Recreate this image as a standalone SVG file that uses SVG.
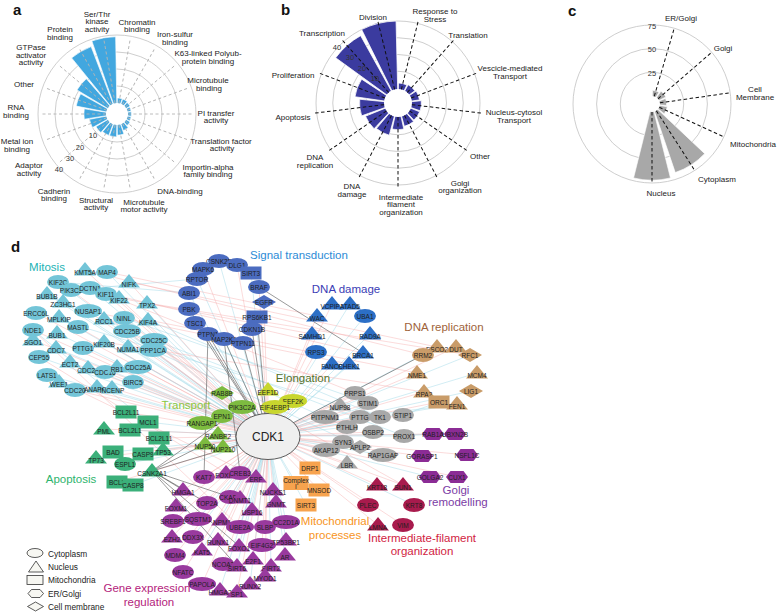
<svg xmlns="http://www.w3.org/2000/svg" xmlns:xlink="http://www.w3.org/1999/xlink" width="777" height="614" viewBox="0 0 777 614">
<style>
text{font-family:'Liberation Sans',Arial,Helvetica,sans-serif}
.ax{font-size:8px;fill:#222;text-anchor:middle;dominant-baseline:central}
.rl{font-size:7.5px;fill:#333;text-anchor:middle;dominant-baseline:central}
.pl{font-size:15px;font-weight:bold;fill:#111}
.ring{fill:none;stroke:#c8c8c8;stroke-width:.9}
.da{stroke:#b4b4b4;stroke-width:.9;stroke-dasharray:3 2.5}
.db{stroke:#111;stroke-width:1;stroke-dasharray:3.5 2.5}
.ba path{fill:#42a7df;stroke:#fff;stroke-width:.6}
.bb path{fill:#3b3b9f;stroke:#fff;stroke-width:.7}
.bc path{fill:#a8a8a8;stroke:#fff;stroke-width:.6}
.nd text{font-size:6.5px;fill:#1e1e1e;text-anchor:middle;dominant-baseline:central}
.cl{font-size:11.5px;text-anchor:middle;dominant-baseline:central}
.lg{fill:#f7f7f2;stroke:#333;stroke-width:.8}
.lt{font-size:8.3px;fill:#222;dominant-baseline:central}
.p{stroke:#f5aaaa;stroke-width:.5;fill:none;opacity:.85}
.b{stroke:#9cd6e6;stroke-width:.5;fill:none;opacity:.9}
.k{stroke:#555;stroke-width:.6;fill:none}
.m{fill:#73c5d8}.s{fill:#4b6cc0}.dd{fill:#2c6fc6}.el{fill:#c8d62e}.tr{fill:#7dbb40}.ap{fill:#3bb07a}
.ge{fill:#993a9e}.mp{fill:#f7a34e}.gr{fill:#a8a8a8}.dr{fill:#c99c69}.go{fill:#8b2c95}.if{fill:#a81b4d}
</style>
<defs>
<ellipse id="E" rx="11" ry="7"/>
<ellipse id="W" rx="14" ry="7"/>
<polygon id="T" points="0,-8 11,5.5 -11,5.5"/>
<rect id="R" x="-10.5" y="-6.5" width="21" height="13"/>
<polygon id="H" points="-11,0 -6.5,-6 6.5,-6 11,0 6.5,6 -6.5,6"/>
<polygon id="D" points="0,-7 12,0 0,7 -12,0"/>
</defs>
<rect width="777" height="614" fill="#fff"/>

<!-- Panel letters -->
<text class="pl" x="13" y="15">a</text>
<text class="pl" x="281" y="15">b</text>
<text class="pl" x="568" y="16">c</text>
<text class="pl" x="11" y="252">d</text>

<!-- Panel a -->
<g id="panel-a">
<circle class="ring" cx="117" cy="114" r="28"/><circle class="ring" cx="117" cy="114" r="45"/><circle class="ring" cx="117" cy="114" r="62"/><circle class="ring" cx="117" cy="114" r="79"/>
<g class="ba" transform="translate(117 114)">
<path transform="rotate(10)" d="M0 0L-2.52-15.9A16.1 16.1 0 0 1 2.52-15.9Z"/>
<path transform="rotate(30)" d="M0 0L-2.52-15.9A16.1 16.1 0 0 1 2.52-15.9Z"/>
<path transform="rotate(50)" d="M0 0L-2.39-15.11A15.3 15.3 0 0 1 2.39-15.11Z"/>
<path transform="rotate(70)" d="M0 0L-2.25-14.22A14.4 14.4 0 0 1 2.25-14.22Z"/>
<path transform="rotate(90)" d="M0 0L-2.25-14.22A14.4 14.4 0 0 1 2.25-14.22Z"/>
<path transform="rotate(110)" d="M0 0L-2.25-14.22A14.4 14.4 0 0 1 2.25-14.22Z"/>
<path transform="rotate(130)" d="M0 0L-2.39-15.11A15.3 15.3 0 0 1 2.39-15.11Z"/>
<path transform="rotate(150)" d="M0 0L-2.78-17.58A17.8 17.8 0 0 1 2.78-17.58Z"/>
<path transform="rotate(170)" d="M0 0L-3.32-20.94A21.2 21.2 0 0 1 3.32-20.94Z"/>
<path transform="rotate(190)" d="M0 0L-3.58-22.62A22.9 22.9 0 0 1 3.58-22.62Z"/>
<path transform="rotate(210)" d="M0 0L-3.58-22.62A22.9 22.9 0 0 1 3.58-22.62Z"/>
<path transform="rotate(230)" d="M0 0L-3.85-24.3A24.6 24.6 0 0 1 3.85-24.3Z"/>
<path transform="rotate(250)" d="M0 0L-4.38-27.66A28 28 0 0 1 4.38-27.66Z"/>
<path transform="rotate(270)" d="M0 0L-5.18-32.69A33.1 33.1 0 0 1 5.18-32.69Z"/>
<path transform="rotate(290)" d="M0 0L-6.51-41.09A41.6 41.6 0 0 1 6.51-41.09Z"/>
<path transform="rotate(310)" d="M0 0L-7.3-46.13A46.7 46.7 0 0 1 7.3-46.13Z"/>
<path transform="rotate(330)" d="M0 0L-11.29-71.31A72.2 72.2 0 0 1 11.29-71.31Z"/>
<path transform="rotate(350)" d="M0 0L-12.09-76.35A77.3 77.3 0 0 1 12.09-76.35Z"/>
</g>
<circle cx="117" cy="114" r="11" fill="#fff"/>
<g class="da" transform="translate(117 114)">
<line y1="-11" y2="-77" transform="rotate(10)"/><line y1="-11" y2="-77" transform="rotate(30)"/><line y1="-11" y2="-77" transform="rotate(50)"/><line y1="-11" y2="-77" transform="rotate(70)"/><line y1="-11" y2="-77" transform="rotate(90)"/><line y1="-11" y2="-77" transform="rotate(110)"/><line y1="-11" y2="-77" transform="rotate(130)"/><line y1="-11" y2="-77" transform="rotate(150)"/><line y1="-11" y2="-77" transform="rotate(170)"/><line y1="-11" y2="-77" transform="rotate(190)"/><line y1="-11" y2="-77" transform="rotate(210)"/><line y1="-11" y2="-77" transform="rotate(230)"/><line y1="-11" y2="-77" transform="rotate(250)"/><line y1="-11" y2="-77" transform="rotate(270)"/><line y1="-11" y2="-77" transform="rotate(290)"/><line y1="-11" y2="-77" transform="rotate(310)"/><line y1="-11" y2="-77" transform="rotate(330)"/><line y1="-11" y2="-77" transform="rotate(350)"/>
</g>
<text class="rl" x="93" y="135">10</text><text class="rl" x="80" y="147">20</text><text class="rl" x="70" y="158">30</text><text class="rl" x="59" y="169">40</text>
<text class="ax" x="97" y="14">Ser/Thr</text><text class="ax" x="97" y="21.5">kinase</text><text class="ax" x="97" y="29">activity</text>
<text class="ax" x="137" y="22">Chromatin</text><text class="ax" x="137" y="29.5">binding</text>
<text class="ax" x="60" y="29">Protein</text><text class="ax" x="60" y="37">binding</text>
<text class="ax" x="175" y="34">Iron-sulfur</text><text class="ax" x="175" y="42">binding</text>
<text class="ax" x="208" y="53">K63-linked Polyub-</text><text class="ax" x="208" y="61">protein binding</text>
<text class="ax" x="31" y="47">GTPase</text><text class="ax" x="31" y="55">activator</text><text class="ax" x="31" y="62.5">activity</text>
<text class="ax" x="208" y="80.5">Microtubule</text><text class="ax" x="209" y="88">binding</text>
<text class="ax" x="24" y="84">Other</text>
<text class="ax" x="16" y="107">RNA</text><text class="ax" x="16" y="115">binding</text>
<text class="ax" x="216" y="113">PI transfer</text><text class="ax" x="216" y="120.5">activity</text>
<text class="ax" x="17" y="141.5">Metal ion</text><text class="ax" x="17" y="149">binding</text>
<text class="ax" x="221" y="141">Translation factor</text><text class="ax" x="222" y="148.5">activity</text>
<text class="ax" x="29" y="165">Adaptor</text><text class="ax" x="29" y="173">activity</text>
<text class="ax" x="208" y="167">Importin-alpha</text><text class="ax" x="208" y="174.5">family binding</text>
<text class="ax" x="54" y="191">Cadherin</text><text class="ax" x="54" y="198.5">binding</text>
<text class="ax" x="180" y="191">DNA-binding</text>
<text class="ax" x="96" y="200">Structural</text><text class="ax" x="96" y="207.5">activity</text>
<text class="ax" x="144" y="202">Microtubule</text><text class="ax" x="144" y="209.5">motor activity</text>
</g>

<!-- Panel b -->
<g id="panel-b">
<circle class="ring" cx="398" cy="103" r="31.75"/><circle class="ring" cx="398" cy="103" r="48.5"/><circle class="ring" cx="398" cy="103" r="65.25"/><circle class="ring" cx="398" cy="103" r="82"/>
<g class="bb" transform="translate(398 103)">
<path transform="rotate(13.85)" d="M0 0L-4.33-19.53A20 20 0 0 1 4.33-19.53Z"/>
<path transform="rotate(41.54)" d="M0 0L-4.52-20.4A20.9 20.9 0 0 1 4.52-20.4Z"/>
<path transform="rotate(69.23)" d="M0 0L-4.7-21.19A21.7 21.7 0 0 1 4.7-21.19Z"/>
<path transform="rotate(96.92)" d="M0 0L-5.06-22.85A23.4 23.4 0 0 1 5.06-22.85Z"/>
<path transform="rotate(124.62)" d="M0 0L-5.06-22.85A23.4 23.4 0 0 1 5.06-22.85Z"/>
<path transform="rotate(152.31)" d="M0 0L-5.24-23.63A24.2 24.2 0 0 1 5.24-23.63Z"/>
<path transform="rotate(180)" d="M0 0L-5.78-26.07A26.7 26.7 0 0 1 5.78-26.07Z"/>
<path transform="rotate(207.69)" d="M0 0L-7.23-32.61A33.4 33.4 0 0 1 7.23-32.61Z"/>
<path transform="rotate(235.38)" d="M0 0L-7.6-34.27A35.1 35.1 0 0 1 7.6-34.27Z"/>
<path transform="rotate(263.08)" d="M0 0L-8.33-37.59A38.5 38.5 0 0 1 8.33-37.59Z"/>
<path transform="rotate(290.77)" d="M0 0L-9.41-42.47A43.5 43.5 0 0 1 9.41-42.47Z"/>
<path transform="rotate(318.46)" d="M0 0L-16.66-75.18A77 77 0 0 1 16.66-75.18Z"/>
<path transform="rotate(346.15)" d="M0 0L-17.74-80.06A82 82 0 0 1 17.74-80.06Z"/>
</g>
<circle cx="398" cy="103" r="14" fill="#fff"/>
<g class="db" transform="translate(398 103)">
<line y1="-14" y2="-84" transform="rotate(13.85)"/><line y1="-14" y2="-84" transform="rotate(41.54)"/><line y1="-14" y2="-84" transform="rotate(69.23)"/><line y1="-14" y2="-84" transform="rotate(96.92)"/><line y1="-14" y2="-84" transform="rotate(124.62)"/><line y1="-14" y2="-84" transform="rotate(152.31)"/><line y1="-14" y2="-84" transform="rotate(180)"/><line y1="-14" y2="-84" transform="rotate(207.69)"/><line y1="-14" y2="-84" transform="rotate(235.38)"/><line y1="-14" y2="-84" transform="rotate(263.08)"/><line y1="-14" y2="-84" transform="rotate(290.77)"/><line y1="-14" y2="-84" transform="rotate(318.46)"/><line y1="-14" y2="-84" transform="rotate(346.15)"/>
</g>
<text class="rl" x="337" y="47">40</text><text class="rl" x="350" y="57">30</text><text class="rl" x="362" y="68">20</text><text class="rl" x="375" y="78">10</text>
<text class="ax" x="373" y="17">Division</text>
<text class="ax" x="435" y="11">Response to</text><text class="ax" x="435" y="19">Stress</text>
<text class="ax" x="322" y="33">Transcription</text>
<text class="ax" x="468" y="35">Translation</text>
<text class="ax" x="510" y="68">Vescicle-mediated</text><text class="ax" x="510" y="76">Transport</text>
<text class="ax" x="293" y="75">Proliferation</text>
<text class="ax" x="514" y="112">Nucleus-cytosol</text><text class="ax" x="514" y="120">Transport</text>
<text class="ax" x="293" y="117">Apoptosis</text>
<text class="ax" x="480" y="156">Other</text>
<text class="ax" x="315" y="157">DNA</text><text class="ax" x="315" y="165">replication</text>
<text class="ax" x="460" y="183">Golgi</text><text class="ax" x="460" y="190.5">organization</text>
<text class="ax" x="352" y="186">DNA</text><text class="ax" x="352" y="194">damage</text>
<text class="ax" x="401" y="197">Intermediate</text><text class="ax" x="401" y="204.5">filament</text><text class="ax" x="401" y="212">organization</text>
</g>

<!-- Panel c -->
<g id="panel-c">
<circle class="ring" cx="652" cy="104" r="31.7"/><circle class="ring" cx="652" cy="104" r="55.4"/><circle class="ring" cx="652" cy="104" r="79"/>
<g class="bc" transform="translate(652 104)">
<path transform="rotate(16.36)" d="M0 0L-3.31-13.29A13.7 13.7 0 0 1 3.31-13.29Z"/>
<path transform="rotate(49.09)" d="M0 0L-3.77-15.14A15.6 15.6 0 0 1 3.77-15.14Z"/>
<path transform="rotate(81.82)" d="M0 0L-3.53-14.17A14.6 14.6 0 0 1 3.53-14.17Z"/>
<path transform="rotate(114.55)" d="M0 0L-3.77-15.14A15.6 15.6 0 0 1 3.77-15.14Z"/>
<path transform="rotate(147.27)" d="M0 0L-17.51-70.25A72.4 72.4 0 0 1 17.51-70.25Z"/>
<path transform="rotate(180)" d="M0 0L-18.43-73.94A76.2 76.2 0 0 1 18.43-73.94Z"/>
</g>
<circle cx="652" cy="104" r="8" fill="#fff"/>
<g class="db" transform="translate(652 104)">
<line y1="-8" y2="-78" transform="rotate(16.36)"/><line y1="-8" y2="-78" transform="rotate(49.09)"/><line y1="-8" y2="-78" transform="rotate(81.82)"/><line y1="-8" y2="-78" transform="rotate(114.55)"/><line y1="-8" y2="-78" transform="rotate(147.27)"/><line y1="-8" y2="-78" transform="rotate(180)"/>
</g>
<text class="rl" x="652" y="26">75</text><text class="rl" x="652" y="49">50</text><text class="rl" x="652" y="73">25</text>
<text class="ax" x="681" y="18">ER/Golgi</text>
<text class="ax" x="723" y="48">Golgi</text>
<text class="ax" x="755" y="89">Cell</text><text class="ax" x="755" y="97">Membrane</text>
<text class="ax" x="753" y="144">Mitochondria</text>
<text class="ax" x="717" y="179">Cytoplasm</text>
<text class="ax" x="661" y="193">Nucleus</text>
</g>

<!-- Panel d connectors -->
<g id="connectors">
<path class="b" d="M268 436L58 282M268 436L107 272M268 436L90 288M268 436L47 294M268 436L63 302M268 436L147 303M268 436L59 317M268 436L104 319M268 436L148 320M268 436L57 333M268 436L127 331M268 436L104 342M268 436L56 348M268 436L128 347M268 436L39 357M268 436L88 368M268 436L117 367M268 436L47 375M268 436L133 382M268 436L97 387M268 436L219 261M268 436L251 273M268 436L197 279M268 436L189 293M268 436L350 304M268 436L365 316M268 436L370 334M268 436L363 353M268 436L349 364M268 436L293 401M268 436L222 393M268 436L222 416M268 436L218 434M268 436L223 447M268 436L148 422M268 436L130 430M268 436L113 452M268 436L163 450M268 436L125 464M268 436L133 485M268 436L226 473M268 436L256 477M268 436L230 497M268 436L240 498M268 436L276 502M268 436L198 519M268 436L252 510M268 436L240 527M268 436L286 522M268 436L193 537M268 436L239 546M268 436L286 540M268 436L202 550M268 436L237 566M268 436L285 555M268 436L271 566M268 436L250 584M268 436L220 590M268 436L296 483M268 436L306 505M268 436L340 405M268 436L325 417M268 436L380 417M268 436L347 427M268 436L404 436M268 436L360 447M268 436L383 455M268 436L437 347M268 436L470 355M268 436L477 373M268 436L471 391M268 436L457 404M268 436L455 434M268 436L430 477M268 436L414 505M124 318L368 403M127 331L347 427M36 313L340 405M148 320L380 417M154 340L404 436M403 415L439 402M404 436L433 434M360 417L457 404M153 350L360 447M58 282L189 293M71 290L197 279M33 330L148 422"/>
<path class="p" d="M268 436L85 270M268 436L71 290M268 436L129 282M268 436L106 294M268 436L119 298M268 436L36 313M268 436L88 311M268 436L124 318M268 436L33 330M268 436L78 327M268 436L33 340M268 436L154 340M268 436L83 348M268 436L153 350M268 436L70 362M268 436L105 372M268 436L138 367M268 436L59 382M268 436L75 390M268 436L112 388M268 436L237 265M268 436L203 269M268 436L259 287M268 436L264 302M268 436L332 304M268 436L317 316M268 436L312 334M268 436L316 352M268 436L332 364M268 436L268 390M268 436L275 407M268 436L242 407M268 436L202 423M268 436L205 444M268 436L126 412M268 436L104 429M268 436L159 438M268 436L143 454M268 436L96 458M268 436L117 482M268 436L204 477M268 436L240 473M268 436L183 490M268 436L207 503M268 436L273 490M268 436L176 506M268 436L222 520M268 436L173 521M268 436L265 527M268 436L172 537M268 436L218 540M268 436L262 545M268 436L175 555M268 436L223 564M268 436L253 559M268 436L183 572M268 436L265 576M268 436L202 584M268 436L237 592M268 436L310 468M268 436L319 490M268 436L355 393M268 436L368 403M268 436L360 417M268 436L403 415M268 436L373 432M268 436L343 442M268 436L326 450M268 436L347 463M268 436L456 347M268 436L417 373M268 436L424 392M268 436L439 402M268 436L433 434M268 436L422 456M268 436L467 455M268 436L457 477M268 436L377 485M268 436L403 485M268 436L368 505M268 436L378 525M268 436L403 525M85 270L423 355M129 282L437 347M107 272L317 316M106 294L355 393M147 303L470 355M58 282L363 353M88 311L349 364M33 330L240 527M47 375L256 477M39 357L226 473M119 298L312 334M148 320L417 373M104 342L424 392M127 331L403 485"/>
<path class="k" d="M268 436L189 309M268 436L257 317M268 436L195 323M268 436L252 329M268 436L208 334M268 436L224 339M268 436L243 343M268 436L423 355M268 436L152 471M259 287L363 353M219 261L237 265L251 273M152 471L205 444M152 471L242 407M152 471L230 497M152 471L237 566M152 471L239 546M152 471L207 503M152 471L183 490M208 334L204 477M224 339L240 473"/>
</g>

<!-- CDK1 hub -->
<g id="n-CDK1"><ellipse cx="268" cy="436.5" rx="32" ry="23" fill="#efefef" stroke="#333" stroke-width=".8"/><text x="268" y="437" font-size="12" fill="#222" text-anchor="middle" dominant-baseline="central">CDK1</text></g>

<!-- Mitosis -->
<g id="mitosis">
<g id="mit-KIF2C" class="nd m" transform="translate(58 282)"><use href="#E"/><text>KIF2C</text></g>
<g id="mit-KMT5A" class="nd m" transform="translate(85 270)"><use href="#T"/><text y="2">KMT5A</text></g>
<g id="mit-MAP4" class="nd m" transform="translate(107 272)"><use href="#E"/><text>MAP4</text></g>
<g id="mit-PIK3C3" class="nd m" transform="translate(71 290)"><use href="#E"/><text>PIK3C3</text></g>
<g id="mit-DCTN1" class="nd m" transform="translate(90 288)"><use href="#E"/><text>DCTN1</text></g>
<g id="mit-NIFK" class="nd m" transform="translate(129 282)"><use href="#T"/><text y="2">NIFK</text></g>
<g id="mit-BUB1B" class="nd m" transform="translate(47 294)"><use href="#T"/><text y="2">BUB1B</text></g>
<g id="mit-KIF11" class="nd m" transform="translate(106 294)"><use href="#E"/><text>KIF11</text></g>
<g id="mit-ZC3HC1" class="nd m" transform="translate(63 302)"><use href="#T"/><text y="2">ZC3HC1</text></g>
<g id="mit-KIF22" class="nd m" transform="translate(119 298)"><use href="#T"/><text y="2">KIF22</text></g>
<g id="mit-TPX2" class="nd m" transform="translate(147 303)"><use href="#T"/><text y="2">TPX2</text></g>
<g id="mit-ERCC6L" class="nd m" transform="translate(36 313)"><use href="#E"/><text>ERCC6L</text></g>
<g id="mit-MPLKIP" class="nd m" transform="translate(59 317)"><use href="#T"/><text y="2">MPLKIP</text></g>
<g id="mit-NUSAP1" class="nd m" transform="translate(88 311)"><use href="#W"/><text>NUSAP1</text></g>
<g id="mit-RCC1" class="nd m" transform="translate(104 319)"><use href="#T"/><text y="2">RCC1</text></g>
<g id="mit-NINL" class="nd m" transform="translate(124 318)"><use href="#E"/><text>NINL</text></g>
<g id="mit-KIF4A" class="nd m" transform="translate(148 320)"><use href="#T"/><text y="2">KIF4A</text></g>
<g id="mit-NDE1" class="nd m" transform="translate(33 330)"><use href="#E"/><text>NDE1</text></g>
<g id="mit-BUB1" class="nd m" transform="translate(57 333)"><use href="#T"/><text y="2">BUB1</text></g>
<g id="mit-MASTL" class="nd m" transform="translate(78 327)"><use href="#E"/><text>MASTL</text></g>
<g id="mit-CDC25B" class="nd m" transform="translate(127 331)"><use href="#W"/><text>CDC25B</text></g>
<g id="mit-SGO1" class="nd m" transform="translate(33 340)"><use href="#T"/><text y="2">SGO1</text></g>
<g id="mit-KIF20B" class="nd m" transform="translate(104 342)"><use href="#T"/><text y="2">KIF20B</text></g>
<g id="mit-CDC25C" class="nd m" transform="translate(154 340)"><use href="#W"/><text>CDC25C</text></g>
<g id="mit-CDC7" class="nd m" transform="translate(56 348)"><use href="#T"/><text y="2">CDC7</text></g>
<g id="mit-PTTG1" class="nd m" transform="translate(83 348)"><use href="#E"/><text>PTTG1</text></g>
<g id="mit-NUMA1" class="nd m" transform="translate(128 347)"><use href="#T"/><text y="2">NUMA1</text></g>
<g id="mit-PPP1CA" class="nd m" transform="translate(153 350)"><use href="#W"/><text>PPP1CA</text></g>
<g id="mit-CEP55" class="nd m" transform="translate(39 357)"><use href="#E"/><text>CEP55</text></g>
<g id="mit-ECT2" class="nd m" transform="translate(70 362)"><use href="#T"/><text y="2">ECT2</text></g>
<g id="mit-CDC26" class="nd m" transform="translate(88 368)"><use href="#T"/><text y="2">CDC26</text></g>
<g id="mit-CDC16" class="nd m" transform="translate(105 372)"><use href="#E"/><text>CDC16</text></g>
<g id="mit-RB1" class="nd m" transform="translate(117 367)"><use href="#T"/><text y="2">RB1</text></g>
<g id="mit-CDC25A" class="nd m" transform="translate(138 367)"><use href="#W"/><text>CDC25A</text></g>
<g id="mit-LATS1" class="nd m" transform="translate(47 375)"><use href="#E"/><text>LATS1</text></g>
<g id="mit-WEE1" class="nd m" transform="translate(59 382)"><use href="#T"/><text y="2">WEE1</text></g>
<g id="mit-BIRC5" class="nd m" transform="translate(133 382)"><use href="#E"/><text>BIRC5</text></g>
<g id="mit-CDC20" class="nd m" transform="translate(75 390)"><use href="#E"/><text>CDC20</text></g>
<g id="mit-ANAPC1" class="nd m" transform="translate(97 387)"><use href="#T"/><text y="2">ANAPC1</text></g>
<g id="mit-INCENP" class="nd m" transform="translate(112 388)"><use href="#T"/><text y="2">INCENP</text></g>
</g>

<!-- Signal transduction -->
<g id="signal">
<g id="sig-CSNK2B" class="nd s" transform="translate(219 261)"><use href="#E"/><text>CSNK2B</text></g>
<g id="sig-DLG1" class="nd s" transform="translate(237 265)"><use href="#E"/><text>DLG1</text></g>
<g id="sig-SIRT3" class="nd s" transform="translate(251 273)"><use href="#R"/><text>SIRT3</text></g>
<g id="sig-MAPK6" class="nd s" transform="translate(203 269)"><use href="#E"/><text>MAPK6</text></g>
<g id="sig-RPTOR" class="nd s" transform="translate(197 279)"><use href="#E"/><text>RPTOR</text></g>
<g id="sig-BRAF" class="nd s" transform="translate(259 287)"><use href="#E"/><text>BRAF</text></g>
<g id="sig-ABI1" class="nd s" transform="translate(189 293)"><use href="#E"/><text>ABI1</text></g>
<g id="sig-EGFR" class="nd s" transform="translate(264 302)"><use href="#D"/><text>EGFR</text></g>
<g id="sig-PBK" class="nd s" transform="translate(189 309)"><use href="#E"/><text>PBK</text></g>
<g id="sig-RPS6KB1" class="nd s" transform="translate(257 317)"><use href="#R"/><text>RPS6KB1</text></g>
<g id="sig-TSC1" class="nd s" transform="translate(195 323)"><use href="#E"/><text>TSC1</text></g>
<g id="sig-CDKN1B" class="nd s" transform="translate(252 329)"><use href="#E"/><text>CDKN1B</text></g>
<g id="sig-PTPN1" class="nd s" transform="translate(208 334)"><use href="#E"/><text>PTPN1</text></g>
<g id="sig-MAP2K1" class="nd s" transform="translate(224 339)"><use href="#E"/><text>MAP2K1</text></g>
<g id="sig-PTPN11" class="nd s" transform="translate(243 343)"><use href="#E"/><text>PTPN11</text></g>
</g>

<!-- DNA damage -->
<g id="dna-damage">
<g id="dd-VCPIP1" class="nd dd" transform="translate(332 304)"><use href="#T"/><text y="2">VCPIP1</text></g>
<g id="dd-ATAD5" class="nd dd" transform="translate(350 304)"><use href="#T"/><text y="2">ATAD5</text></g>
<g id="dd-WAC" class="nd dd" transform="translate(317 316)"><use href="#T"/><text y="2">WAC</text></g>
<g id="dd-UBA1" class="nd dd" transform="translate(365 316)"><use href="#E"/><text>UBA1</text></g>
<g id="dd-SAMHD1" class="nd dd" transform="translate(312 334)"><use href="#T"/><text y="2">SAMHD1</text></g>
<g id="dd-RAD9A" class="nd dd" transform="translate(370 334)"><use href="#T"/><text y="2">RAD9A</text></g>
<g id="dd-RPS3" class="nd dd" transform="translate(316 352)"><use href="#E"/><text>RPS3</text></g>
<g id="dd-BRCA1" class="nd dd" transform="translate(363 353)"><use href="#T"/><text y="2">BRCA1</text></g>
<g id="dd-FANCB" class="nd dd" transform="translate(332 364)"><use href="#T"/><text y="2">FANCB</text></g>
<g id="dd-CHEK1" class="nd dd" transform="translate(349 364)"><use href="#T"/><text y="2">CHEK1</text></g>
</g>

<!-- Elongation -->
<g id="elongation">
<g id="el-EEF1D" class="nd el" transform="translate(268 390)"><use href="#T"/><text y="2">EEF1D</text></g>
<g id="el-EEF2K" class="nd el" transform="translate(293 401)"><use href="#W"/><text>EEF2K</text></g>
<g id="el-EIF4EBP1" class="nd el" transform="translate(275 407)"><use href="#W"/><text>EIF4EBP1</text></g>
</g>

<!-- Transport -->
<g id="transport">
<g id="tr-RAB8B" class="nd tr" transform="translate(222 393)"><use href="#D"/><text>RAB8B</text></g>
<g id="tr-PIK3C2A" class="nd tr" transform="translate(242 407)"><use href="#W"/><text>PIK3C2A</text></g>
<g id="tr-EPN1" class="nd tr" transform="translate(222 416)"><use href="#E"/><text>EPN1</text></g>
<g id="tr-RANGAP1" class="nd tr" transform="translate(202 423)"><use href="#W"/><text>RANGAP1</text></g>
<g id="tr-RANBP2" class="nd tr" transform="translate(218 434)"><use href="#T"/><text y="2">RANBP2</text></g>
<g id="tr-NUP50" class="nd tr" transform="translate(205 444)"><use href="#T"/><text y="2">NUP50</text></g>
<g id="tr-NUP210" class="nd tr" transform="translate(223 447)"><use href="#T"/><text y="2">NUP210</text></g>
</g>

<!-- Apoptosis -->
<g id="apoptosis">
<g id="ap-BCL2L11a" class="nd ap" transform="translate(126 412)"><use href="#R"/><text>BCL2L11</text></g>
<g id="ap-MCL1" class="nd ap" transform="translate(148 422)"><use href="#R"/><text>MCL1</text></g>
<g id="ap-PML" class="nd ap" transform="translate(104 429)"><use href="#T"/><text y="2">PML</text></g>
<g id="ap-BCL2L1" class="nd ap" transform="translate(130 430)"><use href="#R"/><text>BCL2L1</text></g>
<g id="ap-BCL2L11b" class="nd ap" transform="translate(159 438)"><use href="#R"/><text>BCL2L11</text></g>
<g id="ap-BAD" class="nd ap" transform="translate(113 452)"><use href="#R"/><text>BAD</text></g>
<g id="ap-CASP9" class="nd ap" transform="translate(143 454)"><use href="#R"/><text>CASP9</text></g>
<g id="ap-TP53" class="nd ap" transform="translate(163 450)"><use href="#T"/><text y="2">TP53</text></g>
<g id="ap-TP73" class="nd ap" transform="translate(96 458)"><use href="#T"/><text y="2">TP73</text></g>
<g id="ap-ESPL1" class="nd ap" transform="translate(125 464)"><use href="#E"/><text>ESPL1</text></g>
<g id="ap-CSNK2A1" class="nd ap" transform="translate(152 471)"><use href="#T"/><text y="2">CSNK2A1</text></g>
<g id="ap-BCL2" class="nd ap" transform="translate(117 482)"><use href="#R"/><text>BCL2</text></g>
<g id="ap-CASP8" class="nd ap" transform="translate(133 485)"><use href="#R"/><text>CASP8</text></g>
</g>

<!-- Gene expression regulation -->
<g id="gene-expression">
<g id="ge-KAT7" class="nd ge" transform="translate(204 477)"><use href="#E"/><text>KAT7</text></g>
<g id="ge-FOXK2" class="nd ge" transform="translate(226 473)"><use href="#T"/><text y="2">FOXK2</text></g>
<g id="ge-CREB3" class="nd ge" transform="translate(240 473)"><use href="#E"/><text>CREB3</text></g>
<g id="ge-ERF" class="nd ge" transform="translate(256 477)"><use href="#T"/><text y="2">ERF</text></g>
<g id="ge-HMGA1" class="nd ge" transform="translate(183 490)"><use href="#T"/><text y="2">HMGA1</text></g>
<g id="ge-CKAP2" class="nd ge" transform="translate(230 497)"><use href="#E"/><text>CKAP2</text></g>
<g id="ge-TOP2A" class="nd ge" transform="translate(207 503)"><use href="#E"/><text>TOP2A</text></g>
<g id="ge-DNMT1" class="nd ge" transform="translate(240 498)"><use href="#T"/><text y="2">DNMT1</text></g>
<g id="ge-NUCKS1" class="nd ge" transform="translate(273 490)"><use href="#T"/><text y="2">NUCKS1</text></g>
<g id="ge-GNMT" class="nd ge" transform="translate(276 502)"><use href="#T"/><text y="2">GNMT</text></g>
<g id="ge-FOXM1" class="nd ge" transform="translate(176 506)"><use href="#T"/><text y="2">FOXM1</text></g>
<g id="ge-SQSTM1" class="nd ge" transform="translate(198 519)"><use href="#W"/><text>SQSTM1</text></g>
<g id="ge-NPM1" class="nd ge" transform="translate(222 520)"><use href="#T"/><text y="2">NPM1</text></g>
<g id="ge-USP16" class="nd ge" transform="translate(252 510)"><use href="#T"/><text y="2">USP16</text></g>
<g id="ge-SREBF1" class="nd ge" transform="translate(173 521)"><use href="#E"/><text>SREBF1</text></g>
<g id="ge-UBE2A" class="nd ge" transform="translate(240 527)"><use href="#W"/><text>UBE2A</text></g>
<g id="ge-SLBP" class="nd ge" transform="translate(265 527)"><use href="#E"/><text>SLBP</text></g>
<g id="ge-CC2D1A" class="nd ge" transform="translate(286 522)"><use href="#W"/><text>CC2D1A</text></g>
<g id="ge-EZH2" class="nd ge" transform="translate(172 537)"><use href="#T"/><text y="2">EZH2</text></g>
<g id="ge-DDX3X" class="nd ge" transform="translate(193 537)"><use href="#E"/><text>DDX3X</text></g>
<g id="ge-RUNX1" class="nd ge" transform="translate(218 540)"><use href="#T"/><text y="2">RUNX1</text></g>
<g id="ge-FOXO1" class="nd ge" transform="translate(239 546)"><use href="#T"/><text y="2">FOXO1</text></g>
<g id="ge-EIF4G2" class="nd ge" transform="translate(262 545)"><use href="#W"/><text>EIF4G2</text></g>
<g id="ge-TP53BP1" class="nd ge" transform="translate(286 540)"><use href="#T"/><text y="2">TP53BP1</text></g>
<g id="ge-MDM4" class="nd ge" transform="translate(175 555)"><use href="#E"/><text>MDM4</text></g>
<g id="ge-KAT5" class="nd ge" transform="translate(202 550)"><use href="#T"/><text y="2">KAT5</text></g>
<g id="ge-NCOA3" class="nd ge" transform="translate(223 564)"><use href="#E"/><text>NCOA3</text></g>
<g id="ge-SIRT6" class="nd ge" transform="translate(237 566)"><use href="#T"/><text y="2">SIRT6</text></g>
<g id="ge-E2F1" class="nd ge" transform="translate(253 559)"><use href="#T"/><text y="2">E2F1</text></g>
<g id="ge-AR" class="nd ge" transform="translate(285 555)"><use href="#T"/><text y="2">AR</text></g>
<g id="ge-NFATC" class="nd ge" transform="translate(183 572)"><use href="#E"/><text>NFATC</text></g>
<g id="ge-SIRT2" class="nd ge" transform="translate(271 566)"><use href="#T"/><text y="2">SIRT2</text></g>
<g id="ge-MYOD1" class="nd ge" transform="translate(265 576)"><use href="#T"/><text y="2">MYOD1</text></g>
<g id="ge-RUNX2" class="nd ge" transform="translate(250 584)"><use href="#T"/><text y="2">RUNX2</text></g>
<g id="ge-PAPOLA" class="nd ge" transform="translate(202 584)"><use href="#W"/><text>PAPOLA</text></g>
<g id="ge-HMGA2" class="nd ge" transform="translate(220 590)"><use href="#T"/><text y="2">HMGA2</text></g>
<g id="ge-SP1" class="nd ge" transform="translate(237 592)"><use href="#T"/><text y="2">SP1</text></g>
</g>

<!-- Mitochondrial processes -->
<g id="mito">
<g id="mp-DRP1" class="nd mp" transform="translate(310 468)"><use href="#R"/><text>DRP1</text></g>
<g id="mp-ComplexI" class="nd mp" transform="translate(296 483)"><rect x="-12.5" y="-7" width="25" height="14"/><text y="-3">Complex</text><text y="3.5">I</text></g>
<g id="mp-MNSOD" class="nd mp" transform="translate(319 490)"><use href="#R"/><text>MNSOD</text></g>
<g id="mp-SIRT3" class="nd mp" transform="translate(306 505)"><use href="#R"/><text>SIRT3</text></g>
</g>

<!-- Other (grey) -->
<g id="other">
<g id="gr-PRPS1" class="nd gr" transform="translate(355 393)"><use href="#E"/><text>PRPS1</text></g>
<g id="gr-NUP98" class="nd gr" transform="translate(340 405)"><use href="#T"/><text y="2">NUP98</text></g>
<g id="gr-STIM1" class="nd gr" transform="translate(368 403)"><use href="#E"/><text>STIM1</text></g>
<g id="gr-PITPNM1" class="nd gr" transform="translate(325 417)"><use href="#W"/><text>PITPNM1</text></g>
<g id="gr-PTTG" class="nd gr" transform="translate(360 417)"><use href="#E"/><text>PTTG</text></g>
<g id="gr-TK1" class="nd gr" transform="translate(380 417)"><use href="#E"/><text>TK1</text></g>
<g id="gr-STIP1" class="nd gr" transform="translate(403 415)"><use href="#E"/><text>STIP1</text></g>
<g id="gr-PTHLH" class="nd gr" transform="translate(347 427)"><use href="#E"/><text>PTHLH</text></g>
<g id="gr-OSBP2" class="nd gr" transform="translate(373 432)"><use href="#E"/><text>OSBP2</text></g>
<g id="gr-PROX1" class="nd gr" transform="translate(404 436)"><use href="#E"/><text>PROX1</text></g>
<g id="gr-SYN3" class="nd gr" transform="translate(343 442)"><use href="#E"/><text>SYN3</text></g>
<g id="gr-APLP2" class="nd gr" transform="translate(360 447)"><use href="#D"/><text>APLP2</text></g>
<g id="gr-AKAP12" class="nd gr" transform="translate(326 450)"><use href="#W"/><text>AKAP12</text></g>
<g id="gr-RAP1GAP" class="nd gr" transform="translate(383 455)"><use href="#W"/><text>RAP1GAP</text></g>
<g id="gr-LBR" class="nd gr" transform="translate(347 463)"><use href="#T"/><text y="2">LBR</text></g>
</g>

<!-- DNA replication -->
<g id="dna-replication">
<g id="dr-ESCO2" class="nd dr" transform="translate(437 347)"><use href="#T"/><text y="2">ESCO2</text></g>
<g id="dr-DUT" class="nd dr" transform="translate(456 347)"><use href="#T"/><text y="2">DUT</text></g>
<g id="dr-RRM2" class="nd dr" transform="translate(423 355)"><use href="#E"/><text>RRM2</text></g>
<g id="dr-RFC1" class="nd dr" transform="translate(470 355)"><use href="#D"/><text>RFC1</text></g>
<g id="dr-NME1" class="nd dr" transform="translate(417 373)"><use href="#T"/><text y="2">NME1</text></g>
<g id="dr-MCM4" class="nd dr" transform="translate(477 373)"><use href="#T"/><text y="2">MCM4</text></g>
<g id="dr-RPA2" class="nd dr" transform="translate(424 392)"><use href="#T"/><text y="2">RPA2</text></g>
<g id="dr-LIG1" class="nd dr" transform="translate(471 391)"><use href="#D"/><text>LIG1</text></g>
<g id="dr-ORC1" class="nd dr" transform="translate(439 402)"><use href="#R"/><text>ORC1</text></g>
<g id="dr-FEN1" class="nd dr" transform="translate(457 404)"><use href="#T"/><text y="2">FEN1</text></g>
</g>

<!-- Golgi remodelling -->
<g id="golgi">
<g id="go-RAB1A" class="nd go" transform="translate(433 434)"><use href="#H"/><text>RAB1A</text></g>
<g id="go-UBXN2B" class="nd go" transform="translate(455 434)"><use href="#H"/><text>UBXN2B</text></g>
<g id="go-GORASP1" class="nd go" transform="translate(422 456)"><use href="#H"/><text>GORASP1</text></g>
<g id="go-NSFL1C" class="nd go" transform="translate(467 455)"><use href="#H"/><text>NSFL1C</text></g>
<g id="go-GOLGA2" class="nd go" transform="translate(430 477)"><use href="#H"/><text>GOLGA2</text></g>
<g id="go-CUX1" class="nd go" transform="translate(457 477)"><use href="#H"/><text>CUX1</text></g>
</g>

<!-- Intermediate filament -->
<g id="intermediate-filament">
<g id="if-KRT18" class="nd if" transform="translate(377 485)"><use href="#T"/><text y="2">KRT18</text></g>
<g id="if-SUN1" class="nd if" transform="translate(403 485)"><use href="#T"/><text y="2">SUN1</text></g>
<g id="if-PLEC" class="nd if" transform="translate(368 505)"><use href="#E"/><text>PLEC</text></g>
<g id="if-KRT8" class="nd if" transform="translate(414 505)"><use href="#E"/><text>KRT8</text></g>
<g id="if-LMNA" class="nd if" transform="translate(378 525)"><use href="#T"/><text y="2">LMNA</text></g>
<g id="if-VIM" class="nd if" transform="translate(403 525)"><use href="#E"/><text>VIM</text></g>
</g>

<!-- Cluster labels -->
<g id="cluster-labels">
<text class="cl" x="47" y="267" fill="#22b3b5">Mitosis</text>
<text class="cl" x="299" y="255" fill="#2c8bd6">Signal transduction</text>
<text class="cl" x="346" y="289" fill="#3a3db5">DNA damage</text>
<text class="cl" x="444" y="327" fill="#a0633a">DNA replication</text>
<text class="cl" x="303" y="378" fill="#55702a">Elongation</text>
<text class="cl" x="186" y="405" fill="#8dc63f">Transport</text>
<text class="cl" x="71" y="479" fill="#2db46d">Apoptosis</text>
<text class="cl" x="335" y="521" fill="#f7941d">Mitochondrial</text>
<text class="cl" x="335" y="535" fill="#f7941d">processes</text>
<text class="cl" x="456" y="490" fill="#7b3ca5">Golgi</text>
<text class="cl" x="458" y="502" fill="#7b3ca5">remodelling</text>
<text class="cl" x="422" y="538" fill="#d1233f">Intermediate-filament</text>
<text class="cl" x="422" y="551" fill="#d1233f">organization</text>
<text class="cl" x="147" y="588" fill="#b4237c">Gene expression</text>
<text class="cl" x="149" y="602" fill="#b4237c">regulation</text>
</g>

<!-- Legend -->
<g id="legend">
<ellipse class="lg" cx="35" cy="553" rx="8" ry="4.5"/>
<polygon class="lg" points="36,561 43.5,572 28.5,572"/>
<rect class="lg" x="27" y="575.5" width="16" height="9"/>
<polygon class="lg" points="28,593.5 31.5,589.5 40,589.5 43.5,593.5 40,597.5 31.5,597.5"/>
<polygon class="lg" points="35.5,602 43.5,606.5 35.5,611 27.5,606.5"/>
<text class="lt" x="48" y="553.5">Cytoplasm</text>
<text class="lt" x="48" y="567">Nucleus</text>
<text class="lt" x="48" y="580">Mitochondria</text>
<text class="lt" x="48" y="593.5">ER/Golgi</text>
<text class="lt" x="48" y="606.5">Cell membrane</text>
</g>
</svg>
